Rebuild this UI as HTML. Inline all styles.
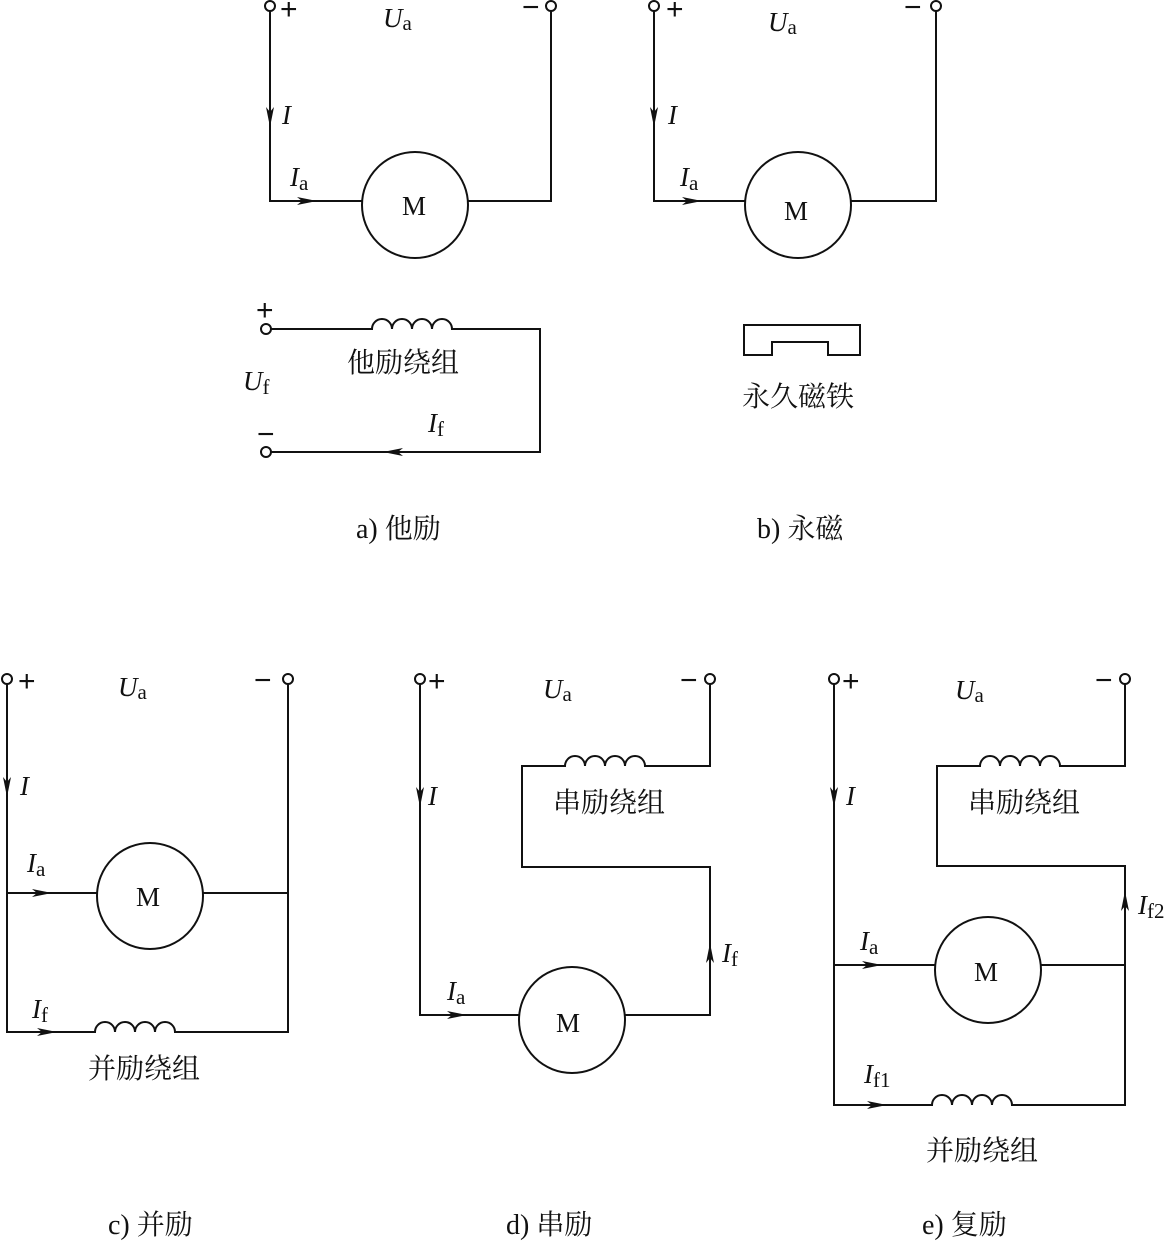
<!DOCTYPE html>
<html><head><meta charset="utf-8"><style>
html,body{margin:0;padding:0;background:#fff}
svg{display:block}
text{fill:#111}
.l{font-family:"Liberation Serif",serif;font-style:italic;font-size:27px}
.s{font-family:"Liberation Serif",serif;font-style:normal;font-size:21px}
.m{font-family:"Liberation Serif",serif;font-size:27px}
.p{font-family:"Liberation Sans",sans-serif;font-size:30px}
.c{font-family:"Liberation Serif","Noto Serif CJK SC",serif;font-size:28px}
</style></head><body>
<svg width="1168" height="1241" viewBox="0 0 1168 1241" xmlns="http://www.w3.org/2000/svg">
<defs>
<marker id="ar" viewBox="0 0 20 10" refX="18" refY="5" markerWidth="20" markerHeight="10" markerUnits="userSpaceOnUse" orient="auto">
<path d="M0,1 L20,5 L0,9 L5,5 Z" fill="#111"/></marker>
</defs>
<g stroke="#111" stroke-width="2" fill="none">
<!-- a -->
<circle cx="270" cy="6" r="5"/><circle cx="551" cy="6" r="5"/>
<path d="M270,11 V201 H362 M468,201 H551 V11"/>
<circle cx="415" cy="205" r="53"/>
<path d="M270,100 V125" marker-end="url(#ar)"/>
<path d="M290,201 H315" marker-end="url(#ar)"/>
<circle cx="266" cy="329" r="5"/><circle cx="266" cy="452" r="5"/>
<path d="M271,329 H372 a10,10 0 0 1 20,0 a10,10 0 0 1 20,0 a10,10 0 0 1 20,0 a10,10 0 0 1 20,0 H540 V452 H271"/>
<path d="M410,452 H385" marker-end="url(#ar)"/>
<!-- b -->
<circle cx="654" cy="6" r="5"/><circle cx="936" cy="6" r="5"/>
<path d="M654,11 V201 H745 M851,201 H936 V11"/>
<circle cx="798" cy="205" r="53"/>
<path d="M654,100 V125" marker-end="url(#ar)"/>
<path d="M675,201 H700" marker-end="url(#ar)"/>
<path d="M744,325 H860 V355 H828 V342 H772 V355 H744 Z"/>
<!-- c -->
<circle cx="7" cy="679" r="5"/><circle cx="288" cy="679" r="5"/>
<path d="M7,684 V1032 H95 a10,10 0 0 1 20,0 a10,10 0 0 1 20,0 a10,10 0 0 1 20,0 a10,10 0 0 1 20,0 H288 V684"/>
<path d="M7,893 H97 M203,893 H288"/>
<circle cx="150" cy="896" r="53"/>
<path d="M7,770 V795" marker-end="url(#ar)"/>
<path d="M25,893 H50" marker-end="url(#ar)"/>
<path d="M30,1032 H55" marker-end="url(#ar)"/>
<!-- d -->
<circle cx="420" cy="679" r="5"/><circle cx="710" cy="679" r="5"/>
<path d="M420,684 V1015 H519 M625,1015 H710 V867 H522 V766 H565 a10,10 0 0 1 20,0 a10,10 0 0 1 20,0 a10,10 0 0 1 20,0 a10,10 0 0 1 20,0 H710 V684"/>
<circle cx="572" cy="1020" r="53"/>
<path d="M420,780 V805" marker-end="url(#ar)"/>
<path d="M440,1015 H465" marker-end="url(#ar)"/>
<path d="M710,970 V945" marker-end="url(#ar)"/>
<!-- e -->
<circle cx="834" cy="679" r="5"/><circle cx="1125" cy="679" r="5"/>
<path d="M834,684 V1105 H932 a10,10 0 0 1 20,0 a10,10 0 0 1 20,0 a10,10 0 0 1 20,0 a10,10 0 0 1 20,0 H1125 V866 H937 V766 H980 a10,10 0 0 1 20,0 a10,10 0 0 1 20,0 a10,10 0 0 1 20,0 a10,10 0 0 1 20,0 H1125 V684"/>
<path d="M834,965 H935 M1041,965 H1125"/>
<circle cx="988" cy="970" r="53"/>
<path d="M834,780 V805" marker-end="url(#ar)"/>
<path d="M855,965 H880" marker-end="url(#ar)"/>
<path d="M860,1105 H885" marker-end="url(#ar)"/>
<path d="M1125,918 V893" marker-end="url(#ar)"/>
</g>
<g>
<text class="p" x="280" y="19">+</text><text class="p" x="522" y="17">−</text>
<text class="l" x="383" y="27">U<tspan class="s" dy="3">a</tspan></text>
<text class="l" x="282" y="124">I</text>
<text class="l" x="290" y="186">I<tspan class="s" dy="4">a</tspan></text>
<text class="p" x="256" y="320">+</text><text class="p" x="257" y="444">−</text>
<text class="l" x="243" y="390">U<tspan class="s" dy="4">f</tspan></text>
<text class="c" x="347" y="372">他励绕组</text>
<text class="l" x="428" y="432">I<tspan class="s" dy="4">f</tspan></text>
<text class="m" x="402" y="215">M</text>
<text class="c" x="356" y="538">a) 他励</text>

<text class="p" x="666" y="19">+</text><text class="p" x="904" y="17">−</text>
<text class="l" x="768" y="31">U<tspan class="s" dy="3">a</tspan></text>
<text class="l" x="668" y="124">I</text>
<text class="l" x="680" y="186">I<tspan class="s" dy="4">a</tspan></text>
<text class="m" x="784" y="220">M</text>
<text class="c" x="742" y="406">永久磁铁</text>
<text class="c" x="757" y="538">b) 永磁</text>

<text class="p" x="18" y="691">+</text><text class="p" x="254" y="690">−</text>
<text class="l" x="118" y="696">U<tspan class="s" dy="3">a</tspan></text>
<text class="l" x="20" y="795">I</text>
<text class="l" x="27" y="872">I<tspan class="s" dy="4">a</tspan></text>
<text class="l" x="32" y="1018">I<tspan class="s" dy="4">f</tspan></text>
<text class="m" x="136" y="906">M</text>
<text class="c" x="88" y="1078">并励绕组</text>
<text class="c" x="108" y="1234">c) 并励</text>

<text class="p" x="428" y="691">+</text><text class="p" x="680" y="690">−</text>
<text class="l" x="543" y="698">U<tspan class="s" dy="3">a</tspan></text>
<text class="l" x="428" y="805">I</text>
<text class="l" x="447" y="1000">I<tspan class="s" dy="4">a</tspan></text>
<text class="l" x="722" y="962">I<tspan class="s" dy="4">f</tspan></text>
<text class="m" x="556" y="1032">M</text>
<text class="c" x="553" y="812">串励绕组</text>
<text class="c" x="506" y="1234">d) 串励</text>

<text class="p" x="842" y="691">+</text><text class="p" x="1095" y="690">−</text>
<text class="l" x="955" y="699">U<tspan class="s" dy="3">a</tspan></text>
<text class="l" x="846" y="805">I</text>
<text class="l" x="860" y="950">I<tspan class="s" dy="4">a</tspan></text>
<text class="l" x="864" y="1083">I<tspan class="s" dy="4">f1</tspan></text>
<text class="l" x="1138" y="914">I<tspan class="s" dy="4">f2</tspan></text>
<text class="m" x="974" y="981">M</text>
<text class="c" x="968" y="812">串励绕组</text>
<text class="c" x="926" y="1160">并励绕组</text>
<text class="c" x="922" y="1234">e) 复励</text>
</g>
</svg>
</body></html>
